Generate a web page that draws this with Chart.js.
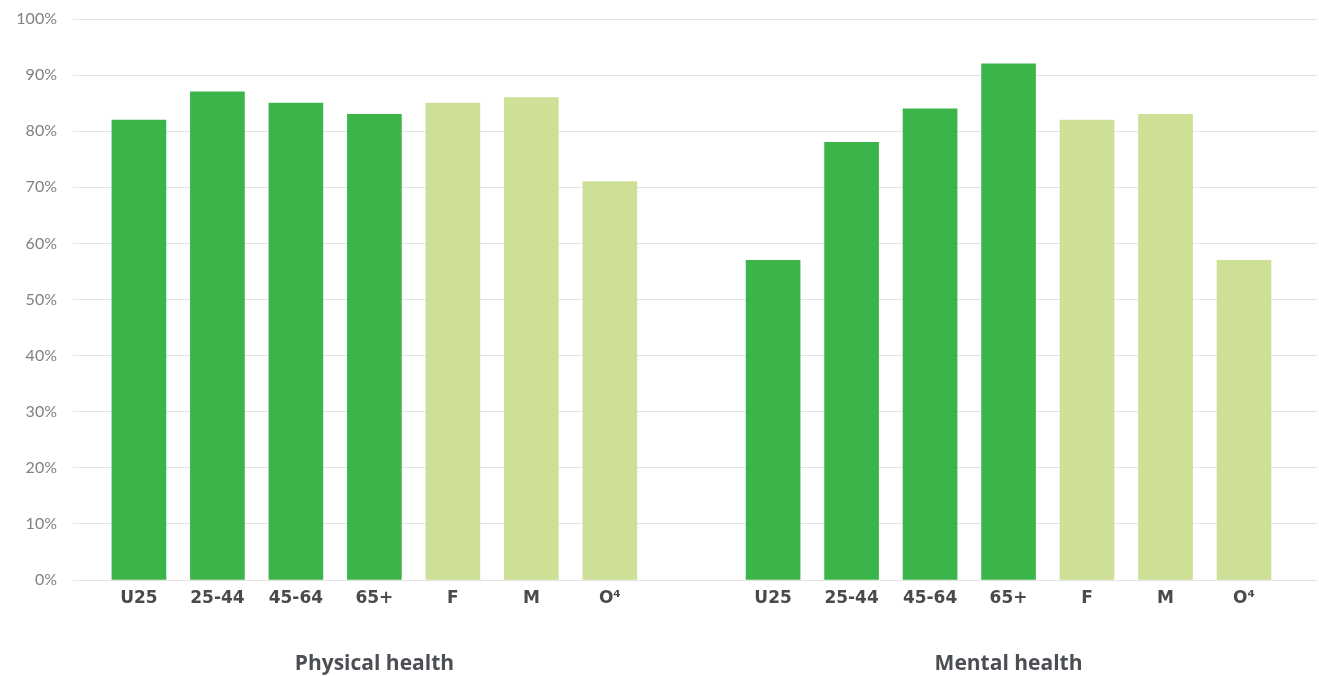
<!DOCTYPE html>
<html>
<head>
<meta charset="utf-8">
<script src="https://cdn.jsdelivr.net/npm/chart.js@4.4.1/dist/chart.umd.min.js"></script>
<style>
  html, body { margin: 0; padding: 0; background: #ffffff; }
  #wrap { width: 1319px; height: 676px; }
</style>
</head>
<body>
<div id="wrap"><canvas id="chart" width="1319" height="676"></canvas></div>
<script>
// Respondent groups shown within each health panel
const categories = ['U25', '25-44', '45-64', '65+', 'F', 'M', 'O\u2074'];
// Age bands are dark green, gender groups light green
const categoryKinds = ['age', 'age', 'age', 'age', 'gender', 'gender', 'gender'];
const groups = ['Physical health', 'Mental health'];
// Share of respondents (%)
const physicalValues = [82, 87, 85, 83, 85, 86, 71];
const mentalValues = [57, 78, 84, 92, 82, 83, 57];
const yTickValues = [0, 10, 20, 30, 40, 50, 60, 70, 80, 90, 100];

const COLORS = { age: '#3bb54a', gender: '#cde096' };
const GROUP_GAP = 1.08;                       // empty space between panels, in bar slots
const groupStart = g => g * (categories.length + GROUP_GAP);

function seriesPoints(values, g) {
  return values.map((v, i) => ({ x: groupStart(g) + i, y: v }));
}
const barColors = categoryKinds.map(k => COLORS[k]);

const tickPositions = [];
const tickText = [];
groups.forEach((_, g) => categories.forEach((c, i) => {
  tickPositions.push(groupStart(g) + i);
  tickText.push(c);
}));
const groupCenters = groups.map((_, g) => groupStart(g) + (categories.length - 1) / 2);

const X_MIN = -0.84;
const X_MAX = groupStart(1) + categories.length - 1 + 0.93;

const xBase = {
  type: 'linear',
  position: 'bottom',
  min: X_MIN,
  max: X_MAX,
  offset: false,
  bounds: 'data',
  grid: { display: false, drawTicks: false },
  border: { display: false }
};

new Chart(document.getElementById('chart'), {
  type: 'bar',
  data: {
    datasets: [
      { label: groups[0], data: seriesPoints(physicalValues, 0), backgroundColor: barColors, xAxisID: 'x', yAxisID: 'y' },
      { label: groups[1], data: seriesPoints(mentalValues, 1), backgroundColor: barColors, xAxisID: 'x', yAxisID: 'y' }
    ]
  },
  options: {
    responsive: false,
    animation: false,
    devicePixelRatio: 1,
    layout: { padding: { top: 19, right: 2, left: 0, bottom: 0 } },
    datasets: { bar: { barThickness: 54, grouped: false, borderWidth: 0 } },
    plugins: { legend: { display: false }, tooltip: { enabled: false } },
    scales: {
      x: Object.assign({}, xBase, {
        afterBuildTicks: s => { s.ticks = tickPositions.map(v => ({ value: v })); },
        afterFit: s => { s.height = 40; },
        ticks: {
          autoSkip: false,
          maxRotation: 0,
          padding: 8,
          color: '#4a4a4a',
          font: { family: 'DejaVu Sans', size: 17, weight: 'bold' },
          callback: (v, i) => tickText[i]
        }
      }),
      x2: Object.assign({}, xBase, {
        afterBuildTicks: s => { s.ticks = groupCenters.map(v => ({ value: v })); },
        afterFit: s => { s.height = 56; },
        ticks: {
          autoSkip: false,
          maxRotation: 0,
          padding: 31,
          color: '#4b4f54',
          font: { family: 'Open Sans', size: 21, weight: 'bold' },
          callback: (v, i) => groups[i]
        }
      }),
      y: {
        min: 0,
        max: 100,
        afterBuildTicks: s => { s.ticks = yTickValues.map(v => ({ value: v })); },
        afterFit: s => { s.width = 73; s.paddingTop = 0; s.paddingBottom = 0; },
        grid: { color: '#e3e3e3', lineWidth: 1, drawTicks: false },
        border: { display: false },
        ticks: {
          padding: 16,
          color: '#808080',
          font: { family: 'Lato', size: 16, weight: '400' },
          callback: v => v + '%'
        }
      }
    }
  }
});
</script>
</body>
</html>
